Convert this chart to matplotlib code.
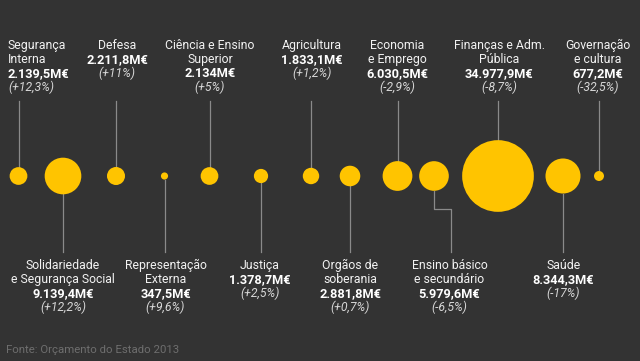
import matplotlib
matplotlib.use('Agg')
import matplotlib.pyplot as plt
import numpy as np

# budget areas, in display order (left to right)
names = [
	"Segurança\nInterna",
	"Solidariedade\ne Segurança Social",
	"Defesa",
	"Representação\nExterna",
	"Ciência e Ensino\nSuperior",
	"Justiça",
	"Agricultura",
	"Orgãos de\nsoberania",
	"Economia\ne Emprego",
	"Ensino básico\ne secundário",
	"Finanças e Adm.\nPública",
	"Saúde",
	"Governação\ne cultura",
]
values = [2139.5, 9139.4, 2211.8, 347.5, 2134.0, 1378.7, 1833.1,
	2881.8, 6030.5, 5979.6, 34977.9, 8344.3, 677.2]
changes = [12.3, 12.2, 11, 9.6, 5, 2.5, 1.2, 0.7, -2.9, -6.5, -8.7, -17, -32.5]
sides = ["top", "bottom", "top", "bottom", "top", "bottom", "top",
	"bottom", "top", "bottom", "top", "bottom", "top"]

# layout (pixels)
circle_x = [18.5, 63, 116, 164.5, 209.5, 261, 311, 350, 397.5, 434, 498, 563, 599]
label_x = [8, 63, 117, 165.5, 210, 260, 312, 350.5, 397, 449.5, 499, 563.5, 598]
label_ha = ["left"] + ["center"] * 12
cy = 176
max_diam = 71.7

bg = "#333333"
yellow = "#FFC400"
line_col = "#8a8a8a"
font = "Roboto"


def fmt_num(v):
	if v == int(v):
		s = "{:,.0f}".format(v)
	else:
		s = "{:,.1f}".format(v)
	return s.replace(",", "X").replace(".", ",").replace("X", ".") + "M€"


def fmt_pct(c):
	s = ("{:+.1f}".format(c) if c != int(c) else "{:+d}".format(int(c)))
	return "(" + s.replace(".", ",") + "%)"


fig = plt.figure(figsize=(6.4, 3.61), dpi=100, facecolor=bg)
ax = fig.add_axes([0, 0, 1, 1])
ax.set_facecolor(bg)
ax.set_xlim(0, 640)
ax.set_ylim(361, 0)
ax.axis("off")

diams = max_diam * np.sqrt(np.array(values) / max(values))
ax.scatter(circle_x, [cy] * len(values), s=(diams * 72 / 100) ** 2,
	color=yellow, linewidths=0, zorder=3)

for i, name in enumerate(names):
	r = diams[i] / 2
	x = circle_x[i]
	if sides[i] == "top":
		ax.plot([x, x], [101, cy - r], color=line_col, lw=0.9, zorder=1)
		y0 = 49.3
	else:
		if abs(label_x[i] - x) > 5:
			# elbow connector when the label is shifted away from its circle
			ax.plot([x, x, label_x[i] + 1, label_x[i] + 1], [cy + r, 209, 209, 252],
				color=line_col, lw=0.9, zorder=1)
		else:
			ax.plot([x, x], [cy + r, 252], color=line_col, lw=0.9, zorder=1)
		y0 = 269.3

	lines = [(t, dict(color="#f2f2f2", fontweight="normal", style="normal", fontsize=8.8))
		for t in name.split("\n")]
	lines.append((fmt_num(values[i]), dict(color="white", fontweight="bold", style="normal", fontsize=9.2)))
	lines.append((fmt_pct(changes[i]), dict(color="#d8d8d8", fontweight="normal", style="italic", fontsize=8.8)))
	for j, (t, st) in enumerate(lines):
		ax.text(label_x[i], y0 + 14 * j, t, ha=label_ha[i], va="baseline",
			family=font, **st)

ax.text(6, 353, "Fonte: Orçamento do Estado 2013", ha="left", va="baseline",
	fontsize=8.2, family=font, color="#6e6e6e")

plt.savefig("out.png", dpi=100, facecolor=bg)
